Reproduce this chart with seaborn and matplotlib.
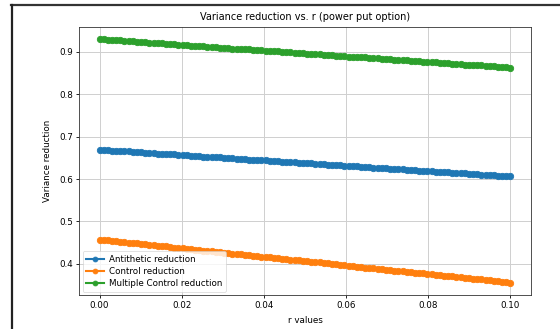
import numpy as np
import matplotlib
matplotlib.use("Agg")
import matplotlib.pyplot as plt
import seaborn as sns
from matplotlib.lines import Line2D

r_values = np.linspace(0.0, 0.1, 100)

antithetic = [
    0.669, 0.668, 0.668, 0.667, 0.666, 0.666, 0.665, 0.665, 0.664, 0.663,
    0.663, 0.662, 0.661, 0.661, 0.660, 0.659, 0.659, 0.658, 0.658, 0.657,
    0.656, 0.656, 0.655, 0.654, 0.654, 0.653, 0.652, 0.652, 0.651, 0.651,
    0.650, 0.649, 0.649, 0.648, 0.647, 0.647, 0.646, 0.645, 0.645, 0.644,
    0.644, 0.643, 0.642, 0.642, 0.641, 0.640, 0.640, 0.639, 0.638, 0.638,
    0.637, 0.637, 0.636, 0.635, 0.635, 0.634, 0.633, 0.633, 0.632, 0.631,
    0.631, 0.630, 0.630, 0.629, 0.628, 0.628, 0.627, 0.626, 0.626, 0.625,
    0.624, 0.624, 0.623, 0.623, 0.622, 0.621, 0.621, 0.620, 0.619, 0.619,
    0.618, 0.617, 0.617, 0.616, 0.616, 0.615, 0.614, 0.614, 0.613, 0.612,
    0.612, 0.611, 0.610, 0.610, 0.609, 0.609, 0.608, 0.607, 0.607, 0.606,
]

control = [
    0.457, 0.456, 0.455, 0.454, 0.453, 0.452, 0.451, 0.450, 0.449, 0.448,
    0.447, 0.446, 0.445, 0.444, 0.443, 0.442, 0.441, 0.440, 0.438, 0.437,
    0.436, 0.435, 0.434, 0.433, 0.432, 0.431, 0.430, 0.429, 0.428, 0.427,
    0.426, 0.425, 0.424, 0.423, 0.422, 0.421, 0.420, 0.419, 0.418, 0.417,
    0.416, 0.415, 0.414, 0.413, 0.412, 0.411, 0.410, 0.409, 0.408, 0.407,
    0.406, 0.405, 0.404, 0.403, 0.402, 0.401, 0.400, 0.399, 0.398, 0.397,
    0.395, 0.394, 0.393, 0.392, 0.391, 0.390, 0.389, 0.388, 0.387, 0.386,
    0.385, 0.384, 0.383, 0.382, 0.381, 0.380, 0.379, 0.378, 0.377, 0.376,
    0.375, 0.374, 0.373, 0.372, 0.371, 0.370, 0.369, 0.368, 0.367, 0.366,
    0.365, 0.364, 0.363, 0.362, 0.361, 0.360, 0.359, 0.358, 0.357, 0.355,
]

multiple_control = [
    0.930, 0.930, 0.929, 0.928, 0.927, 0.927, 0.926, 0.925, 0.925, 0.924,
    0.923, 0.923, 0.922, 0.921, 0.921, 0.920, 0.919, 0.919, 0.918, 0.917,
    0.917, 0.916, 0.915, 0.914, 0.914, 0.913, 0.912, 0.912, 0.911, 0.910,
    0.910, 0.909, 0.908, 0.908, 0.907, 0.906, 0.906, 0.905, 0.904, 0.904,
    0.903, 0.902, 0.902, 0.901, 0.900, 0.900, 0.899, 0.898, 0.897, 0.897,
    0.896, 0.895, 0.895, 0.894, 0.893, 0.893, 0.892, 0.891, 0.891, 0.890,
    0.889, 0.889, 0.888, 0.887, 0.887, 0.886, 0.885, 0.885, 0.884, 0.883,
    0.883, 0.882, 0.881, 0.880, 0.880, 0.879, 0.878, 0.878, 0.877, 0.876,
    0.876, 0.875, 0.874, 0.874, 0.873, 0.872, 0.872, 0.871, 0.870, 0.870,
    0.869, 0.868, 0.868, 0.867, 0.866, 0.866, 0.865, 0.864, 0.864, 0.863,
]

series_labels = ["Antithetic reduction", "Control reduction", "Multiple Control reduction"]
series_colors = ["#1f77b4", "#ff7f0e", "#2ca02c"]

W, H = 560, 329
fig = plt.figure(figsize=(W / 100, H / 100), dpi=100)
ax = fig.add_axes([79 / W, 1 - 295 / H, (531 - 79) / W, (295 - 27) / H])

for vals, lab, col in zip([antithetic, control, multiple_control], series_labels, series_colors):
    sns.lineplot(x=r_values, y=vals, ax=ax, marker="o", markersize=4.6,
                 markeredgewidth=0.6, markeredgecolor=col, color=col,
                 label=lab, linewidth=1.5)

ax.grid(True, color="#cfcfcf", linewidth=0.7)
ax.set_axisbelow(True)
ax.set_title("Variance reduction vs. r (power put option)", fontsize=7, pad=5)
ax.set_xlabel("r values", fontsize=6.3, labelpad=4)
ax.set_ylabel("Variance reduction", fontsize=6.3, labelpad=5)
ax.tick_params(labelsize=6.3, length=2.5, width=0.6, pad=2)
ax.set_xticks([0.0, 0.02, 0.04, 0.06, 0.08, 0.10])
ax.set_xticklabels(["0.00", "0.02", "0.04", "0.06", "0.08", "0.10"])
ax.set_yticks([0.4, 0.5, 0.6, 0.7, 0.8, 0.9])
for s in ax.spines.values():
    s.set_linewidth(0.6)
    s.set_color("#333333")

leg = ax.legend(loc="lower left", fontsize=6.3, frameon=True, handlelength=2.0,
                borderpad=0.4, labelspacing=0.35, handletextpad=0.6, borderaxespad=0.4)
leg.get_frame().set_linewidth(0.5)
for h in leg.legend_handles:
    h.set_markersize(3.5)

# screenshot frame lines
fig.add_artist(Line2D([10.5 / W, 1.0], [1 - 5 / H, 1 - 5 / H], color="#333333", linewidth=1.6))
fig.add_artist(Line2D([11.5 / W, 11.5 / W], [0.0, 1 - 5 / H], color="#222222", linewidth=1.6))

fig.savefig("out.png", dpi=100)
